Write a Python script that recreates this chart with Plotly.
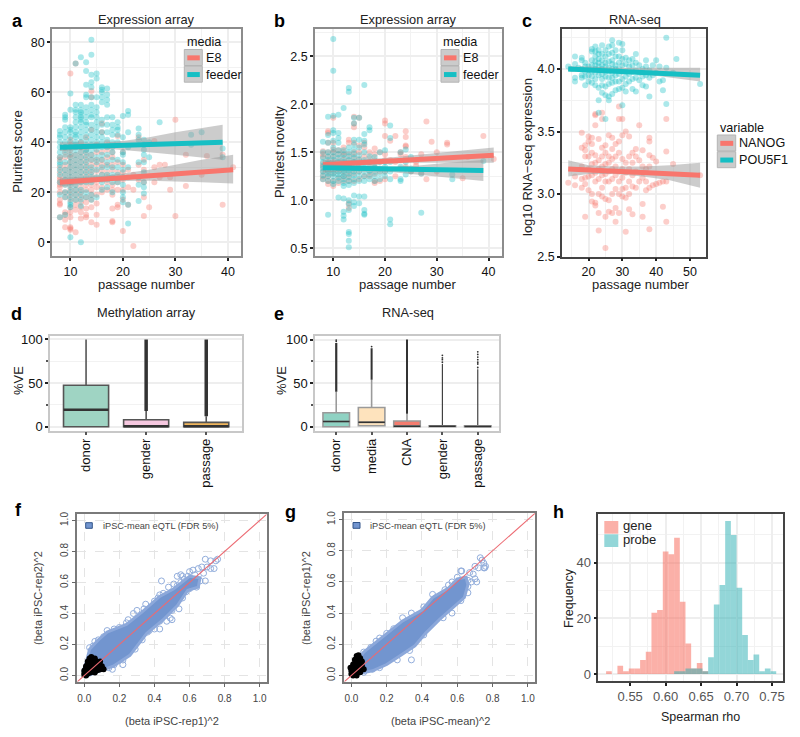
import plotly.graph_objects as go

W, H = 800, 737
RED, TEAL = "#F8766D", "#16BFC4"
FONT = "Liberation Sans"

# ---- panel a ----
a_feeder = {8:[10,19,24,27,29,31,32,34,36,38,40,42,43,44.5],9:[11,18,20,23,25,27,29,32,35,37,38,40,42,44,46,49,50,51],
10:[2,14,15,16,18,20,22,24,26,28,30,32,34,36,38,40,42,44,45,46,53,59.5],11:[17,19,21,23,25,27,29,31,33,35,37,38,39,40,42,43,44,46,48,50,52,53,55,71.5],
12:[0,14.5,17,19,21,24,26,28,30,32,34,36,38,40,42,44,46,48,49,50,51,52,53,55,74],13:[18,20,24,26,28,30,32,34,36,37,39,41,43,45,47,48,50,52,54,58,59,63,68.5,72],
14:[17,19,24,26,28,30,33,35,37,39,41,43,45,47,50,51,53,55,58,62,64,67,75,81],15:[18,26,29,32,34,37,40,42,44,46,48,50,52,54,58,65.5,67.5],
16:[21,24,27,30,33,35,38,40,42,44,47,49,56,58,60,61,62],17:[22,25,27,30,32,35,38,41,44,47,50,55,57,59,61.5],18:[20,24,27,30,33,36,38,40,43,45,47,50],
19:[24,27,30,33,40,43,45,46,48],20:[16,18,20,23,26,29,32,35,36,42,50.5],21:[7.5,15,30,38,44,51,52.5],23:[16.5,23,26,32,41,43,45.5],24:[19.5,22,24,28,32,35,37,39,41],
25:[34,40],27:[48],33:[39,43],35:[44],39:[37.5,34]}
a_e8 = {8:[10,15,15.5,17,20,22,23,24,25,26,28,30,33,34],9:[6,9,11,12,18,20,23,25,27,29,31,34,36,38],10:[5,5.5,6,10,12,14,17,19,21,23,24,26,28,30,32,34,35,37,39,41,67.5],
11:[4,13,15,17,19,21,23,25,27,29,31,33,35,71.5],12:[9.5,12,14,16,18,20,22,24,26,28,30,32,34,36,38,40],13:[10,11,13.5,16,18,21,23,25,27,29,31,33,35,37,42],
14:[8,14,17,19,21,23,25,27,29,31,33,35,45,58,60.5],15:[7,11,15.5,19,22,24,26,28.5,31,33,36,39],16:[20,22,25,27,29,31,33,36,44,47.5],17:[21,24,26,28,31,34,37,40],
18:[8,8.5,13.5,19,21,23,26,29,31,34,36],19:[14,15,21,24,28,32,42.5],20:[4.5,17,21,25,28,31,36],21:[15,22,26,29],22:[-1.5,21,27],23:[25,31,42],24:[10.5,18,24,29,33],
25:[14],26:[24,30,40.5],27:[26,31],28:[31],29:[21,26],30:[10.5,49],32:[22.5,35],35:[27],36:[34.5],39:[15,35],41:[30]}
a_e8_fit_x, a_e8_fit_y = [8, 41], [24, 29]
a_feeder_fit_x, a_feeder_fit_y = [8, 39], [38, 40]
a_e8_band_x = [8,12,16,20,25,30,35,41]
a_e8_low = [22.3,23.3,24.3,24.5,24.6,24.3,24,23.5]
a_e8_high = [25.8,26,26.5,27.5,29,31,33,35]
a_feeder_band_x = [8,12,16,20,25,30,35,39]
a_feeder_low = [36.5,37,37.6,37,36,35,34,33]
a_feeder_high = [40,39.8,39.8,40.5,42,44,45.5,47]

# ---- panel b ----
b_feeder = {8:[1.22,1.26,1.3,1.33,1.36,1.4,1.44,1.5,1.61],9:[.85,1.2,1.25,1.28,1.31,1.35,1.38,1.42,1.46,1.5,1.6,1.68,1.87],
10:[1.17,1.2,1.25,1.28,1.31,1.35,1.38,1.42,1.46,1.5,1.55,1.62,1.7,1.73,1.88,2.35,2.68],11:[1.03,1.2,1.24,1.27,1.3,1.33,1.36,1.4,1.44,1.48,1.52,1.6,1.65,1.7,1.89],
12:[.8,.84,.88,1.02,1.15,1.18,1.22,1.25,1.28,1.31,1.34,1.37,1.4,1.44,1.48,1.52,1.96],13:[.51,.58,.65,.67,.96,.9,1.0,1.16,1.2,1.24,1.28,1.31,1.35,1.38,1.42,1.46,1.5,1.55,2.13,2.17],
14:[.94,.98,1.05,1.18,1.22,1.26,1.3,1.33,1.36,1.4,1.44,1.48,1.53,1.58,1.63,1.8,1.86],15:[.97,1.04,1.2,1.25,1.3,1.33,1.37,1.42,1.47,1.55,1.63,1.86],
16:[.85,.86,.9,1.04,1.2,1.25,1.3,1.34,1.38,1.42,1.5,1.58,1.62,1.69,2.2],17:[1.22,1.27,1.31,1.35,1.4,1.46,1.73,1.76],18:[1.2,1.25,1.3,1.34,1.38,1.45],19:[1.22,1.28,1.33,1.4,1.5],
20:[1.25,1.3,1.35,1.4,1.52],21:[.75,.8,1.22,1.3,1.4,1.65,1.78],23:[1.2,1.22,1.35,1.5],24:[1.27,1.33,1.4,1.53],25:[1.33,1.3,1.45],27:[.87,1.28],33:[1.22,1.27],39:[1.41]}
b_e8 = {8:[1.22,1.25,1.3,1.35,1.38,1.45,1.48,1.51],9:[1.17,1.2,1.25,1.3,1.38,1.4,1.45,1.5,1.6,1.7,1.72],10:[1.15,1.2,1.28,1.35,1.4,1.45,1.5,1.53,1.6,1.86],11:[1.18,1.23,1.3,1.36,1.42,1.48,1.52],
12:[1.2,1.25,1.3,1.35,1.42,1.47,1.5,1.55],13:[.92,.97,1.2,1.25,1.3,1.36,1.42,1.48,1.6,1.63],14:[1.2,1.28,1.33,1.4,1.45,1.5,1.6,1.76,1.8,1.87],15:[1.22,1.3,1.38,1.43,1.5,1.57,1.86],
16:[1.25,1.32,1.4,1.46,1.55,1.6],17:[1.25,1.3,1.38,1.44,1.5],18:[1.18,1.2,1.28,1.35,1.42,1.48,1.54],19:[1.2,1.3,1.4,1.5],20:[1.22,1.3,1.42,1.48,1.67,1.8,1.83],21:[1.42,1.62],
22:[1.25,1.4,1.67],23:[1.33,1.5,1.48],24:[1.35,1.45,1.56,1.57,1.66,1.72],25:[1.3],26:[1.36,1.4],27:[1.28,1.48],28:[1.22,1.82],29:[1.61],30:[1.3,1.5],32:[1.58,1.6],35:[1.23],36:[1.45],39:[1.67],41:[1.43]}
b_e8_fit_x, b_e8_fit_y = [8, 41], [1.37, 1.47]
b_feeder_fit_x, b_feeder_fit_y = [8, 39], [1.34, 1.31]
b_e8_band_x = [8,14,20,26,32,41]
b_e8_low = [1.32,1.36,1.38,1.39,1.39,1.39]
b_e8_high = [1.42,1.42,1.44,1.47,1.50,1.55]
b_feeder_band_x = [8,14,20,26,32,39]
b_feeder_low = [1.29,1.31,1.30,1.27,1.24,1.2]
b_feeder_high = [1.38,1.36,1.35,1.36,1.39,1.42]

# ---- panel c ----
c_pou = {14:[4.02],15:[4.0],16:[3.9,3.93,4.04,4.1],17:[4.01],18:[3.93,3.95,4.0,4.07,4.09],19:[3.87,3.94,3.98,4.02,4.05],20:[3.9,3.95,3.99,4.02],21:[3.89,3.94,3.98,4.03,4.07,4.14,4.16],
22:[3.87,3.92,3.97,4.0,4.03,4.06,4.1,4.14,4.18],23:[3.65,3.75,3.85,3.95,3.99,4.02,4.05,4.08,4.12,4.15],24:[3.81,3.87,3.92,3.96,4.0,4.03,4.07,4.12,4.19],25:[3.6,3.79,3.86,3.94,3.98,4.02,4.05,4.1,4.15],
26:[3.75,3.78,3.88,3.93,3.98,4.01,4.06,4.12,4.18],27:[3.8,3.89,3.93,3.97,4.0,4.04,4.07,4.13,4.19,4.23],28:[3.83,3.9,3.95,4.0,4.03,4.1,4.15],29:[3.84,3.9,3.96,4.0,4.05,4.1,4.21],
30:[3.71,3.85,3.92,3.98,4.03,4.08,4.15,4.2],31:[3.82,3.88,3.94,3.98,4.04,4.09],32:[3.9,3.96,4.02,4.07],33:[3.84,3.92,3.98,4.03,4.08],34:[3.82,3.93,3.99,4.05,4.12],35:[3.91,3.97,4.03],
36:[3.87,3.94,4.0],37:[3.86,3.95,4.02,4.07],38:[3.78,3.93,3.99],39:[3.95,4.03],40:[3.97,4.07],41:[3.9,4.02],42:[3.83,3.91],43:[3.72,4.01,4.25],45:[3.97],46:[4.08],53:[3.88]}
c_nanog = {14:[3.09],16:[3.07,3.14],18:[3.05,3.12,3.22,3.37,3.49],19:[2.82,3.08,3.13,3.3,3.35,3.39],20:[3.03,3.14,3.2,3.3,3.42,3.46],21:[2.94,3,3.15,3.24,3.33,3.4,3.45],
22:[2.91,2.93,3.1,3.17,3.25,3.31,3.55,3.63,3.64],23:[2.71,2.85,3.0,3.12,3.2,3.27,3.44],24:[2.98,3.05,3.15,3.22,3.3,3.37,3.6,3.65],25:[2.57,2.82,2.96,3.1,3.16,3.24,3.33,3.39],
26:[2.86,2.95,3.1,3.18,3.25,3.3,3.47],27:[2.85,3,3.12,3.2,3.28,3.36,3.45],28:[2.78,2.89,3.04,3.15,3.22,3.3,3.4],29:[2.85,3,3.1,3.18,3.33,3.42,3.6,3.7],30:[2.98,3.04,3.13,3.2,3.28,3.47,3.6],
31:[2.7,2.97,3.05,3.17,3.25,3.5],32:[2.88,3,3.1,3.2,3.3,3.46],33:[2.84,3.06,3.15,3.25,3.33],34:[3.05,3.18,3.3,3.36],35:[3.1,3.27,3.55],36:[2.82,2.92,3.13,3.22,3.35],37:[3.03,3.1,3.2],
38:[2.72,3.05,3.22,3.31,3.42,3.45],39:[3.07,3.29],40:[3.08,3.26],41:[3.09],42:[2.9,3.1],43:[2.78,3.1,3.34,3.6],45:[3.24],53:[3.15]}
c_nanog_fit_x, c_nanog_fit_y = [14, 53], [3.2, 3.15]
c_pou_fit_x, c_pou_fit_y = [14, 53], [4.0, 3.95]
c_band_x = [14,20,28,36,44,53]
c_nanog_low = [3.14,3.16,3.16,3.14,3.11,3.05]
c_nanog_high = [3.27,3.23,3.22,3.22,3.23,3.25]
c_pou_low = [3.98,3.98,3.97,3.96,3.93,3.9]
c_pou_high = [4.02,4.02,4.01,4.01,4.01,4.01]

# ---- panels d, e: q1, median, q3, whisker top, outlier top ----
d_cats = ["donor", "gender", "passage"]
d_q1, d_med, d_q3 = [0,0,0], [19.5,0.5,0.5], [47.5,8,5]
d_whisk, d_out = [100,18,12], [100,100,100]
d_fill = ["#9FD4C3", "#F6C8E0", "#F0B65C"]
e_cats = ["donor", "media", "CNA", "gender", "passage"]
e_q1, e_med, e_q3 = [0,1,0,0,0], [6,5,0.5,0.5,0.3], [16,22,6.5,1,1]
e_whisk, e_out = [40,54,15,2,2], [96,90,100,72,66]
e_out_w = [2.2,2,2,1.1,1.1]
e_sparse_cat = [0,0,1,3,3,3,3,4,4,4,4,4,4,4]
e_sparse_y = [98,99.5,92,74,77,79,82,68,72,74,77,80,83,86]
e_fill = ["#8FD2C3", "#FEE3BD", "#F47C6F", "#888888", "#888888"]

# ---- panel f ----
f_core_x = [-.01,.01,.03,.08,.13,.24,.33,.43,.51,.60,.66,.65,.59,.53,.45,.355,.26,.165,.09,.04,.0]
f_core_y = [.02,.08,.17,.23,.28,.33,.41,.51,.56,.64,.63,.57,.55,.45,.36,.27,.13,.06,.03,.01,-.01]
f_black_x = [-.01,-.008,.005,.03,.06,.09,.115,.10,.05,.01]
f_black_y = [-.01,.03,.07,.11,.10,.09,.045,.03,.012,-.005]
f_black_px = [.0,.01,.02,.03,.04,.05,.06,.07,.08,.09,.10,.11,.02,.04,.06,.08,.0,.01,.03]
f_black_py = [.03,.06,.09,.11,.12,.10,.11,.09,.07,.09,.06,.04,.02,.03,.02,.04,.01,.0,.06]
f_x = [.69,.72,.75,.76,.74,.72,.70,.67,.65,.62,.60,.59,.63,.55,.53,.56,.44,.69,.66,.64,.62,.61,.59,.64,.60,.57,.55,.53,.51,.48,.45,.43,.42,.40,.35,.34,.30,.28,.25,.24,.20,.17,.13,.11,.08,.06,.03,.05,.10,.56,.54,.50,.50,.47,.49,.43,.42,.43,.40,.36,.37,.33,.30,.29,.26,.27,.22,.20,.22,.17,.14,.16,.58,.52,.46,.38,.31,.25,.68,.57,.47]
f_y = [.75,.74,.74,.75,.69,.69,.70,.70,.69,.68,.67,.64,.65,.65,.64,.64,.61,.61,.61,.60,.62,.60,.60,.57,.56,.58,.60,.58,.59,.57,.53,.52,.50,.48,.46,.43,.42,.40,.36,.34,.31,.30,.29,.25,.23,.22,.18,.19,.21,.50,.43,.42,.36,.35,.37,.35,.38,.30,.30,.28,.29,.23,.22,.17,.16,.18,.10,.10,.07,.07,.05,.04,.54,.49,.40,.33,.25,.15,.66,.62,.47]

# ---- panel g ----
g_core_x = [-.01,.03,.07,.14,.2,.29,.4,.46,.55,.6,.65,.66,.64,.58,.5,.42,.36,.28,.2,.12,.04,.0]
g_core_y = [.02,.09,.15,.215,.265,.35,.42,.5,.56,.62,.63,.58,.5,.44,.36,.27,.19,.13,.07,.03,.012,-.01]
g_black_x = [-.005,.0,.02,.05,.06,.065,.05,.03,.01]
g_black_y = [0,.05,.115,.12,.06,.03,.015,.01,-.01]
g_black_px = [.0,.01,.02,.03,.04,.05,.06,.07,.0,.01,.03,.05,.02,.04,-.005,.06]
g_black_py = [.03,.07,.10,.125,.13,.11,.06,.04,.01,.0,.0,.02,.06,.09,.05,.09]
g_x = [.73,.74,.75,.76,.755,.72,.70,.69,.67,.66,.64,.62,.625,.60,.57,.55,.53,.50,.46,.48,.41,.38,.34,.29,.24,.20,.16,.14,.11,.07,.75,.71,.70,.68,.66,.63,.61,.60,.58,.55,.54,.52,.49,.45,.43,.41,.34,.33,.30,.26,.22,.16,.12,.07,.66,.62,.57]
g_y = [.755,.74,.72,.70,.69,.69,.70,.65,.66,.61,.59,.67,.67,.63,.60,.58,.55,.51,.52,.50,.44,.39,.40,.37,.30,.27,.24,.22,.18,.15,.69,.60,.62,.60,.53,.55,.50,.52,.46,.44,.47,.37,.38,.36,.32,.26,.10,.16,.18,.10,.11,.05,.04,.02,.57,.48,.40]
diag = [-.04, 1.04]

# ---- panel h ----
h_gene_x = [.520,.528,.536,.544,.552,.560,.568,.576,.584,.592,.600,.608,.616,.624,.632,.640,.648,.656]
h_gene_y = [1,0,3,1,2,2,5,8,22,23,44,43,49,26,11,2,4,1]
h_probe_x = [.616,.624,.632,.640,.648,.656,.664,.672,.680,.688,.696,.704,.712,.720,.728,.736,.744,.752]
h_probe_y = [1,1,2,2,2,1,6,25,32,55,50,31,14,5,7,1,2,1]


def dom(a, b, total):
    return [a / total, b / total]


fig = go.Figure()
layout = {}


def ax(n, xpx, ypx, xr, yr, xkw, ykw):
    xname = "xaxis" if n == 1 else f"xaxis{n}"
    yname = "yaxis" if n == 1 else f"yaxis{n}"
    s = "" if n == 1 else str(n)
    layout[xname] = dict(domain=dom(*xpx, W), range=xr, anchor="y" + s, mirror=True, showline=True, zeroline=False,
                         ticks="outside", automargin=False, **xkw)
    layout[yname] = dict(domain=[1 - ypx[1] / H, 1 - ypx[0] / H], range=yr, anchor="x" + s, mirror=True, showline=True,
                         zeroline=False, ticks="outside", automargin=False, **ykw)


def gg(dtick, mtick, border="#8C8C8C", gw=1.5, mw=.7, size=12.5, tc="#111", tick0=0, fmt=None):
    k = dict(dtick=dtick, tick0=tick0, showgrid=True, gridcolor="#EEEEEE", gridwidth=gw, linecolor=border, linewidth=1.5,
             ticklen=3, tickwidth=1.5, tickcolor="#222", tickfont=dict(family=FONT, size=size, color=tc),
             minor=dict(dtick=mtick, tick0=tick0, showgrid=True, gridcolor="#F2F2F2", gridwidth=mw, ticks=""))
    if fmt:
        k["tickformat"] = fmt
    return k


def flat(d):
    xs, ys = [], []
    for k, vs in d.items():
        xs += [k] * len(vs)
        ys += vs
    return xs, ys


def scatter_panel(n, groups):
    s = "" if n == 1 else str(n)
    for pts, col, name in groups:
        x, y = flat(pts)
        fig.add_trace(go.Scatter(x=x, y=y, mode="markers", xaxis="x" + s, yaxis="y" + s, showlegend=False, name=name,
                                 marker=dict(size=6, color=col, opacity=.36, line=dict(width=0))))


def band_fit(n, bx, low, high, fx, fy, col, name):
    s = "" if n == 1 else str(n)
    fig.add_trace(go.Scatter(x=bx + bx[::-1], y=high + low[::-1], mode="lines", fill="toself", fillcolor="rgba(153,153,153,.5)",
                             line=dict(width=0), xaxis="x" + s, yaxis="y" + s, showlegend=False, hoverinfo="skip"))
    fig.add_trace(go.Scatter(x=fx, y=fy, mode="lines", line=dict(color=col, width=5), xaxis="x" + s, yaxis="y" + s,
                             showlegend=False, name=name))


# a
ax(1, (52, 241), (29, 256), [6.5, 42.5], [-5.5, 85.3], gg(10, 5), gg(20, 10))
scatter_panel(1, [(a_e8, RED, "E8"), (a_feeder, TEAL, "feeder")])
band_fit(1, a_e8_band_x, a_e8_low, a_e8_high, a_e8_fit_x, a_e8_fit_y, RED, "E8")
band_fit(1, a_feeder_band_x, a_feeder_low, a_feeder_high, a_feeder_fit_x, a_feeder_fit_y, TEAL, "feeder")
# b
ax(2, (315, 502), (29, 256), [6.47, 42.6], [.42, 2.784], gg(10, 5), gg(.5, .25, fmt=".1f"))
scatter_panel(2, [(b_e8, RED, "E8"), (b_feeder, TEAL, "feeder")])
band_fit(2, b_e8_band_x, b_e8_low, b_e8_high, b_e8_fit_x, b_e8_fit_y, RED, "E8")
band_fit(2, b_feeder_band_x, b_feeder_low, b_feeder_high, b_feeder_fit_x, b_feeder_fit_y, TEAL, "feeder")
# c
ax(3, (562, 705.5), (29, 256.7), [12.15, 54.6], [2.5, 4.319], gg(10, 5, "#444444", 2.2, 1.2), gg(.5, .25, "#444444", 2.2, 1.2, fmt=".1f"))
scatter_panel(3, [(c_nanog, RED, "NANOG"), (c_pou, TEAL, "POU5F1")])
band_fit(3, c_band_x, c_nanog_low, c_nanog_high, c_nanog_fit_x, c_nanog_fit_y, RED, "NANOG")
band_fit(3, c_band_x, c_pou_low, c_pou_high, c_pou_fit_x, c_pou_fit_y, TEAL, "POU5F1")


def box_panel(n, cats, q1, med, q3, whisk, out, fills, line, out_w, med_w):
    s = str(n)
    for i in range(len(cats)):
        fig.add_trace(go.Scatter(x=[i, i], y=[whisk[i], out[i]], mode="lines", line=dict(color="#333333", width=out_w[i]),
                                 xaxis="x" + s, yaxis="y" + s, showlegend=False))
        fig.add_trace(go.Box(x=[i], q1=[q1[i]], median=[med[i]], q3=[q3[i]], lowerfence=[q1[i]], upperfence=[whisk[i]],
                             width=.75, whiskerwidth=0, boxpoints=False, fillcolor=fills[i], name=cats[i],
                             line=dict(color=line, width=1.6), xaxis="x" + s, yaxis="y" + s, showlegend=False))
        fig.add_trace(go.Scatter(x=[i - .375, i + .375], y=[med[i], med[i]], mode="lines", line=dict(color="#333333", width=med_w),
                                 xaxis="x" + s, yaxis="y" + s, showlegend=False))


def cat_axis(cats):
    k = gg(1, 1, size=13)
    k.pop("dtick"); k.pop("tick0"); k.pop("minor")
    k.update(tickmode="array", tickvals=list(range(len(cats))), ticktext=cats, tickangle=-90, showgrid=False,
             linecolor="#C8C8C8", ticklen=3, tickcolor="#555", ticklabelstandoff=-2)
    return k


def ve_axis():
    k = gg(50, 25, "#C8C8C8", size=13)
    k["minor"]["ticks"] = "outside"
    k["minor"]["ticklen"] = 2
    k["minor"]["tickcolor"] = "#555"
    return k


ax(4, (50, 242.3), (336, 430.7), [-.6, 2.6], [-4.6, 104], cat_axis(d_cats), ve_axis())
box_panel(4, d_cats, d_q1, d_med, d_q3, d_whisk, d_out, d_fill, "#555555", [3.5, 3.5, 3.5], 2.5)
ax(5, (315, 499), (335.7, 430.7), [-.6, 4.6], [-4.6, 104.5], cat_axis(e_cats), ve_axis())
box_panel(5, e_cats, e_q1, e_med, e_q3, e_whisk, e_out, e_fill, "#9A9A9A", e_out_w, 1.5)
fig.add_trace(go.Scatter(x=e_sparse_cat, y=e_sparse_y, mode="markers", marker=dict(size=1.8, color="#333333"), xaxis="x5", yaxis="y5",
                         showlegend=False))


def r_axis(rot=False):
    k = dict(dtick=.2, tick0=0, showgrid=True, griddash="dash", gridcolor="#E4E4E4", gridwidth=1, linecolor="#7A7A7A", linewidth=1.5,
             ticklen=4, tickwidth=1, tickcolor="#666", tickformat=".1f", tickangle=-90 if rot else 0,
             tickfont=dict(family=FONT, size=10, color="#444"))
    if not rot:
        k["ticklabelstandoff"] = 3
    return k


BLUE = "#7295CF"


def qq_panel(n, cx, cy, bx, by, bpx, bpy, px, py):
    s = str(n)
    fig.add_trace(go.Scatter(x=px, y=py, mode="markers", xaxis="x" + s, yaxis="y" + s, showlegend=False,
                             marker=dict(size=6, color="rgba(0,0,0,0)", line=dict(color="#93AEDC", width=1))))
    fig.add_trace(go.Scatter(x=cx, y=cy, mode="lines", fill="toself", fillcolor=BLUE, line=dict(color="#8CA8DA", width=3),
                             xaxis="x" + s, yaxis="y" + s, showlegend=False, hoverinfo="skip"))
    fig.add_trace(go.Scatter(x=bx, y=by, mode="lines", fill="toself", fillcolor="#000000", line=dict(color="#000", width=2),
                             xaxis="x" + s, yaxis="y" + s, showlegend=False, hoverinfo="skip"))
    fig.add_trace(go.Scatter(x=bpx, y=bpy, mode="markers", xaxis="x" + s, yaxis="y" + s, showlegend=False,
                             marker=dict(size=6, color="#000000", line=dict(width=0))))
    fig.add_trace(go.Scatter(x=diag, y=diag, mode="lines", line=dict(color="#EC6A72", width=1.1), xaxis="x" + s, yaxis="y" + s,
                             showlegend=False))


ax(6, (77.3, 266.7), (514.3, 681.7), [-.04, 1.04], [-.04, 1.04], r_axis(), r_axis(True))
qq_panel(6, f_core_x, f_core_y, f_black_x, f_black_y, f_black_px, f_black_py, f_x, f_y)
ax(7, (344.3, 535), (513.3, 681.7), [-.04, 1.04], [-.04, 1.04], r_axis(), r_axis(True))
qq_panel(7, g_core_x, g_core_y, g_black_x, g_black_y, g_black_px, g_black_py, g_x, g_y)

# h
ax(8, (598.3, 783.3), (514, 681), [.505, .766], [-2.5, 57.5],
   gg(.05, .025, "#444444", 2, 1, 13, "#555", tick0=.55, fmt=".2f"), gg(20, 10, "#444444", 2, 1, 13, "#555"))
fig.add_trace(go.Bar(x=h_gene_x, y=h_gene_y, width=.008, marker=dict(color="#F76151", opacity=.5, line=dict(width=0)), name="gene",
                     xaxis="x8", yaxis="y8", showlegend=False))
fig.add_trace(go.Bar(x=h_probe_x, y=h_probe_y, width=.008, marker=dict(color="#27ADB1", opacity=.5, line=dict(width=0)), name="probe",
                     xaxis="x8", yaxis="y8", showlegend=False))

anns, shapes = [], []


def text(s, x, y, size=13, color="#111", bold=False, anchor="center", rot=0):
    anns.append(dict(text=f"<b>{s}</b>" if bold else s, x=x / W, y=1 - y / H, xref="paper", yref="paper", xanchor=anchor,
                     yanchor="middle", showarrow=False, textangle=rot, font=dict(family=FONT, size=size, color=color)))


def rect(x0, y0, x1, y1, fill, line=None):
    shapes.append(dict(type="rect", xref="paper", yref="paper", x0=x0 / W, x1=x1 / W, y0=1 - y0 / H, y1=1 - y1 / H, fillcolor=fill,
                       line=dict(width=0 if line is None else 1, color=line or fill), layer="above"))


for s, x, y in [("a", 17, 21), ("b", 279, 21), ("c", 527, 21), ("d", 16, 314), ("e", 279, 314), ("f", 18, 510), ("g", 290, 512), ("h", 558, 512)]:
    text(s, x, y, 18, "#000", True)
for s, x, y in [("Expression array", 146.7, 20), ("Expression array", 408, 20), ("RNA-seq", 634.8, 20), ("Methylation array", 146.5, 313), ("RNA-seq", 408, 313)]:
    text(s, x, y, 12.8, "#222")
for s, x, y in [("passage number", 146.7, 284.5), ("passage number", 408, 284.5), ("passage number", 641, 284.5)]:
    text(s, x, y, 13, "#222")
for s, x, y in [("Pluritest score", 17.7, 152), ("Pluritest novelty", 280, 152), ("log10 RNA\u2212seq expression", 527, 157), ("%VE", 18, 381), ("%VE", 281, 381)]:
    text(s, x, y, 13, "#222", rot=-90)
for s, x, y in [("(beta iPSC-rep1)^2", 172, 720.7), ("(beta iPSC-mean)^2", 440, 720.7), ]:
    text(s, x, y, 11, "#444")
for s, x, y in [("(beta iPSC-rep2)^2", 38, 598), ("(beta iPSC-rep1)^2", 306, 598)]:
    text(s, x, y, 11, "#444", rot=-90)
text("Spearman rho", 700.8, 716.7, 12.5, "#222")
text("Frequency", 569, 598, 12.5, "#222", rot=-90)


def gg_legend(title, tx, ty, kx0, kx1, y0, names, cols):
    text(title, tx, ty, 12.6, "#111", anchor="left")
    step = 16.7
    for i, (nm, col) in enumerate(zip(names, cols)):
        rect(kx0, y0 + i * step, kx1, y0 + (i + 1) * step - .7, "#CBCBCB", "#B5B5B5")
        shapes.append(dict(type="line", xref="paper", yref="paper", x0=(kx0 + 3) / W, x1=(kx1 - 2.5) / W,
                           y0=1 - (y0 + (i + .5) * step) / H, y1=1 - (y0 + (i + .5) * step) / H,
                           line=dict(color=col, width=5), layer="above"))
        text(nm, kx1 + 1.5, y0 + (i + .5) * step, 12.6, "#111", anchor="left")


gg_legend("media", 185, 42, 184.3, 202.3, 49.5, ["E8", "feeder"], [RED, TEAL])
gg_legend("media", 441, 42, 441, 459, 49.5, ["E8", "feeder"], [RED, TEAL])
gg_legend("variable", 718.3, 128.3, 717.3, 735.7, 135, ["NANOG", "POU5F1"], [RED, TEAL])

rect(85.7, 522.7, 92.3, 528.3, BLUE, "#33558A")
text("iPSC-mean eQTL (FDR 5%)", 101, 525.7, 9.2, "#444", anchor="left")
rect(353, 522.5, 360, 528.3, BLUE, "#33558A")
text("iPSC-mean eQTL (FDR 5%)", 368.3, 525.5, 9.2, "#444", anchor="left")

rect(604.3, 521, 618.3, 533.7, "#FBB0A8")
rect(604.3, 534.3, 618.3, 547, "#93D6D8")
text("gene", 620.5, 525.5, 13, "#222", anchor="left")
text("probe", 620.5, 539.5, 13, "#222", anchor="left")

fig.update_layout(width=W, height=H, margin=dict(l=0, r=0, t=0, b=0), paper_bgcolor="white", plot_bgcolor="white",
                  barmode="overlay", boxmode="overlay", showlegend=False, annotations=anns, shapes=shapes,
                  font=dict(family=FONT), **layout)
fig.write_html("out.html", config={"displayModeBar": False}, post_script="document.body.style.margin='0';")
